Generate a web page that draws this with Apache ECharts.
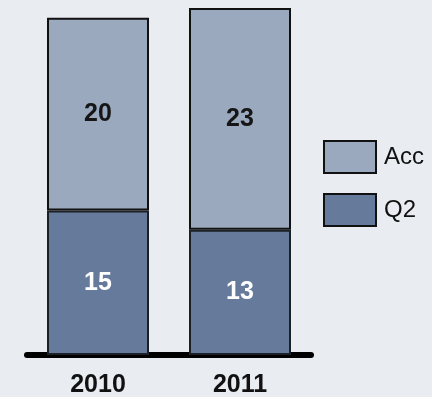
<!DOCTYPE html>
<html>
<head>
<meta charset="utf-8">
<script src="https://cdn.jsdelivr.net/npm/echarts@6/dist/echarts.min.js"></script>
<style>
  html, body { margin: 0; padding: 0; background: #e9edf2; }
  #chart { width: 432px; height: 397px; }
</style>
</head>
<body>
<div id="chart"></div>
<script>
// Years along the bottom axis
const years = ['2010', '2011'];
// Stacked segments per year
const q2Values = [15, 13];
const accValues = [20, 23];

const chart = echarts.init(document.getElementById('chart'), null, { renderer: 'canvas' });

const labelFont = {
  fontFamily: '"Liberation Sans", Arial, sans-serif',
  fontWeight: 'bold',
  fontSize: 25
};

chart.setOption({
  backgroundColor: '#e9edf2',
  animation: false,
  grid: { left: 27, right: 121, top: 8, bottom: 42, outerBoundsMode: 'none' },
  legend: {
    orient: 'vertical',
    left: 323,
    top: 140,
    padding: 0,
    icon: 'rect',
    itemWidth: 52,
    itemHeight: 32,
    itemGap: 19,
    data: ['Acc', 'Q2'],
    itemStyle: { borderColor: '#111', borderWidth: 2 },
    textStyle: {
      fontFamily: '"Liberation Sans", Arial, sans-serif',
      fontSize: 24,
      color: '#111',
      padding: [0, 0, 0, 3]
    }
  },
  xAxis: {
    type: 'category',
    data: years,
    offset: 3,
    axisLine: { show: true, lineStyle: { color: '#000', width: 6 } },
    axisTick: { show: false },
    axisLabel: Object.assign({ color: '#111', margin: 15 }, labelFont)
  },
  yAxis: {
    type: 'value',
    min: 0,
    max: 36,
    show: false,
    splitLine: { show: false }
  },
  series: [
    {
      name: 'Q2',
      type: 'bar',
      stack: 'total',
      barWidth: 102,
      data: q2Values,
      itemStyle: { color: '#667a9b', borderColor: '#1b1f26', borderWidth: 2 },
      label: Object.assign({ show: true, position: 'inside', color: '#ffffff' }, labelFont)
    },
    {
      name: 'Acc',
      type: 'bar',
      stack: 'total',
      barWidth: 102,
      data: accValues,
      itemStyle: { color: '#9aa9bd', borderColor: '#111', borderWidth: 2 },
      label: Object.assign({ show: true, position: 'inside', color: '#161616' }, labelFont)
    }
  ]
});
</script>
</body>
</html>
